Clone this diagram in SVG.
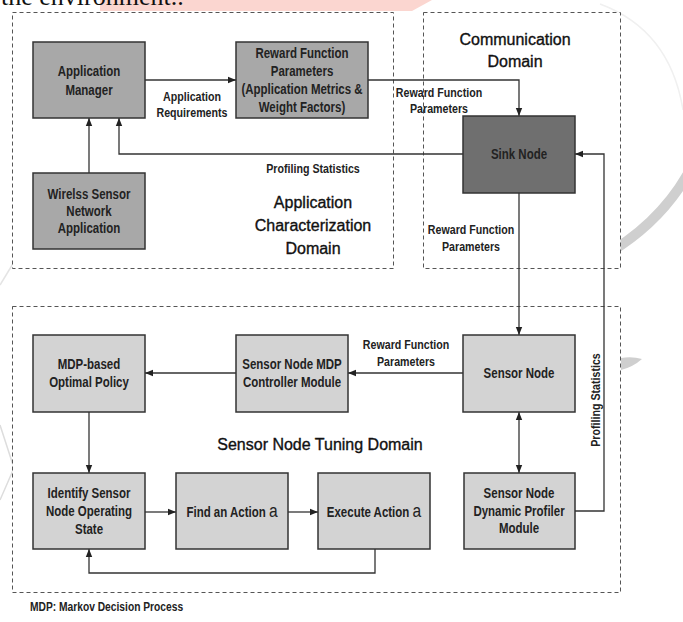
<svg xmlns="http://www.w3.org/2000/svg" width="683" height="622" viewBox="0 0 683 622">
<style>
.dom{fill:#fff;stroke:#555;stroke-width:1;stroke-dasharray:4 3}
.nd{stroke:#333;stroke-width:1.5}
.mid{fill:#a8a8a8}
.dark{fill:#6f6f6f}
.light{fill:#d3d3d3}
.nl{font-family:"Liberation Sans",Arial,sans-serif;font-weight:bold;font-size:14px;fill:#222;text-anchor:middle}
.cl{font-family:"Liberation Sans",Arial,sans-serif;font-weight:bold;font-size:13px;fill:#222;text-anchor:middle}
.dl{font-family:"Liberation Sans",Arial,sans-serif;font-size:16px;fill:#111;stroke:#111;stroke-width:0.35;text-anchor:middle}
.va{font-weight:normal;font-size:19px}
.cn{fill:none;stroke:#333;stroke-width:1.3}
</style>
<defs>
<marker id="ah" viewBox="0 0 10 10" refX="10" refY="5" markerWidth="9" markerHeight="8" markerUnits="userSpaceOnUse" orient="auto-start-reverse">
<path d="M0,1 L10,5 L0,9 z" fill="#222"/>
</marker>
</defs>
<rect width="683" height="622" fill="#fff"/>
<g id="background">
<polygon points="100,0 432,0 412,11 100,11" fill="#fbd6d0"/>
<text x="1" y="5" font-family="'Liberation Serif','Times New Roman',serif" font-size="26" fill="#111">the environment..</text>
<path d="M690,170 Q660,225 600,258" fill="none" stroke="#cfcfcf" stroke-width="10"/>
<path d="M600,4 Q670,30 683,110" fill="none" stroke="#f0f0f0" stroke-width="1.5"/>
<path d="M621,358 Q632,356 642,359 Q633,367 621,370 z" fill="#cfcfcf"/>
<path d="M0,425 L14,468 L0,500" fill="none" stroke="#dddddd" stroke-width="1.5"/>
<path d="M14,262 L0,285" fill="none" stroke="#e4e4e4" stroke-width="1.5"/>
</g>
<g id="domains">
<rect id="app-domain" class="dom" x="12.5" y="12.5" width="381" height="256"/>
<rect id="comm-domain" class="dom" x="423.5" y="12.5" width="197" height="256"/>
<rect id="tuning-domain" class="dom" x="12.5" y="306.5" width="608" height="286"/>
<text class="dl" x="313" y="208">Application</text>
<text class="dl" x="313" y="231">Characterization</text>
<text class="dl" x="313" y="254">Domain</text>
<text class="dl" x="515" y="45">Communication</text>
<text class="dl" x="515" y="67">Domain</text>
<text class="dl" x="320" y="450">Sensor Node Tuning Domain</text>
</g>
<g id="connectors">
<path class="cn" d="M145,80 H236" marker-end="url(#ah)"/>
<path class="cn" d="M368,80 H519 V116" marker-end="url(#ah)"/>
<path class="cn" d="M463,154 H119 V118" marker-end="url(#ah)"/>
<path class="cn" d="M89,173 V118" marker-end="url(#ah)"/>
<path class="cn" d="M519,193 V335" marker-end="url(#ah)"/>
<path class="cn" d="M575,511 H604 V154 H575" marker-end="url(#ah)"/>
<path class="cn" d="M463,373 H348" marker-end="url(#ah)"/>
<path class="cn" d="M236,373 H145" marker-end="url(#ah)"/>
<path class="cn" d="M89,412 V473" marker-end="url(#ah)"/>
<path class="cn" d="M145,512 H176" marker-end="url(#ah)"/>
<path class="cn" d="M288,512 H318" marker-end="url(#ah)"/>
<path class="cn" d="M375,549 V573 H89 V549" marker-end="url(#ah)"/>
<path class="cn" d="M519,412 V473" marker-start="url(#ah)" marker-end="url(#ah)"/>
<text class="cl" transform="translate(192,0) scale(0.82,1)"><tspan x="0" y="101">Application</tspan><tspan x="0" y="117">Requirements</tspan></text>
<text class="cl" transform="translate(439,0) scale(0.82,1)"><tspan x="0" y="97">Reward Function</tspan><tspan x="0" y="113">Parameters</tspan></text>
<text class="cl" transform="translate(313,0) scale(0.82,1)" x="0" y="173">Profiling Statistics</text>
<text class="cl" transform="translate(471,0) scale(0.82,1)"><tspan x="0" y="234">Reward Function</tspan><tspan x="0" y="251">Parameters</tspan></text>
<text class="cl" transform="translate(406,0) scale(0.82,1)"><tspan x="0" y="349">Reward Function</tspan><tspan x="0" y="366">Parameters</tspan></text>
<text class="cl" transform="translate(600,400) rotate(-90) scale(0.82,1)" x="0" y="0">Profiling Statistics</text>
</g>
<g id="app-manager">
<rect class="nd mid" x="33" y="42" width="112" height="76"/>
<text class="nl" transform="translate(89,0) scale(0.82,1)"><tspan x="0" y="76">Application</tspan><tspan x="0" y="95">Manager</tspan></text>
</g>
<g id="reward-params">
<rect class="nd mid" x="236" y="42" width="132" height="76"/>
<text class="nl" transform="translate(302,0) scale(0.82,1)"><tspan x="0" y="58">Reward Function</tspan><tspan x="0" y="76">Parameters</tspan><tspan x="0" y="94">(Application Metrics &amp;</tspan><tspan x="0" y="112">Weight Factors)</tspan></text>
</g>
<g id="wsn-app">
<rect class="nd mid" x="33" y="173" width="112" height="76"/>
<text class="nl" transform="translate(89,0) scale(0.82,1)"><tspan x="0" y="199">Wirelss Sensor</tspan><tspan x="0" y="216">Network</tspan><tspan x="0" y="233">Application</tspan></text>
</g>
<g id="sink-node">
<rect class="nd dark" x="463" y="116" width="112" height="77"/>
<text class="nl" transform="translate(519,0) scale(0.82,1)" x="0" y="159">Sink Node</text>
</g>
<g id="sensor-node">
<rect class="nd light" x="463" y="335" width="112" height="77"/>
<text class="nl" transform="translate(519,0) scale(0.82,1)" x="0" y="378">Sensor Node</text>
</g>
<g id="profiler">
<rect class="nd light" x="464" y="473" width="111" height="76"/>
<text class="nl" transform="translate(519,0) scale(0.82,1)"><tspan x="0" y="498">Sensor Node</tspan><tspan x="0" y="516">Dynamic Profiler</tspan><tspan x="0" y="533">Module</tspan></text>
</g>
<g id="mdp-policy">
<rect class="nd light" x="33" y="335" width="112" height="77"/>
<text class="nl" transform="translate(89,0) scale(0.82,1)"><tspan x="0" y="369">MDP-based</tspan><tspan x="0" y="387">Optimal Policy</tspan></text>
</g>
<g id="mdp-controller">
<rect class="nd light" x="236" y="335" width="112" height="77"/>
<text class="nl" transform="translate(292,0) scale(0.82,1)"><tspan x="0" y="369">Sensor Node MDP</tspan><tspan x="0" y="387">Controller Module</tspan></text>
</g>
<g id="identify-state">
<rect class="nd light" x="33" y="473" width="112" height="76"/>
<text class="nl" transform="translate(89,0) scale(0.82,1)"><tspan x="0" y="498">Identify Sensor</tspan><tspan x="0" y="516">Node Operating</tspan><tspan x="0" y="534">State</tspan></text>
</g>
<g id="find-action">
<rect class="nd light" x="176" y="473" width="112" height="76"/>
<text class="nl" transform="translate(232,0) scale(0.82,1)" x="0" y="517">Find an Action <tspan class="va">a</tspan></text>
</g>
<g id="execute-action">
<rect class="nd light" x="318" y="473" width="112" height="76"/>
<text class="nl" transform="translate(374,0) scale(0.82,1)" x="0" y="517">Execute Action <tspan class="va">a</tspan></text>
</g>
<text transform="translate(30,611) scale(0.82,1)" x="0" y="0" font-family="'Liberation Sans',Arial,sans-serif" font-weight="bold" font-size="12.5" fill="#222">MDP: Markov Decision Process</text>
</svg>
